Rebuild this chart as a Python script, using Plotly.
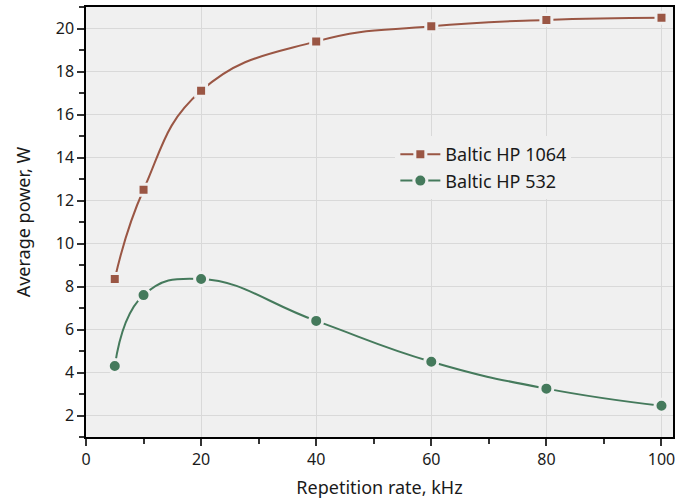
import plotly.graph_objects as go

rate_khz = [5, 10, 20, 40, 60, 80, 100]
power_1064 = [8.35, 12.5, 17.1, 19.4, 20.1, 20.4, 20.5]
power_532 = [4.3, 7.6, 8.35, 6.4, 4.5, 3.25, 2.45]

brown = "#9A5644"
green = "#457A5C"
bg = "#F0F0F0"
font_family = "Noto Sans, Open Sans, sans-serif"

fig = go.Figure()
fig.add_trace(go.Scatter(
    x=rate_khz, y=power_1064, name="Baltic HP 1064", mode="lines+markers",
    line=dict(color=brown, width=2, shape="spline", smoothing=1.3),
    marker=dict(symbol="square", size=11, color=brown, line=dict(color=bg, width=3)),
))
fig.add_trace(go.Scatter(
    x=rate_khz, y=power_532, name="Baltic HP 532", mode="lines+markers",
    line=dict(color=green, width=2, shape="spline", smoothing=1.3),
    marker=dict(symbol="circle", size=13, color=green, line=dict(color=bg, width=3)),
))

axis_common = dict(
    showline=True, linecolor="black", linewidth=1.5, mirror=True,
    ticks="outside", ticklen=7, tickcolor="#333", tickwidth=1.5,
    showgrid=True, gridcolor="#D9D9D9", gridwidth=1,
    zeroline=False,
    tickfont=dict(size=16, color="#1a1a1a", family=font_family),
    title_font=dict(size=18, color="#1a1a1a", family=font_family),
)

fig.update_xaxes(
    range=[0, 102], tickmode="linear", tick0=0, dtick=20,
    title_text="Repetition rate, kHz", title_standoff=12,
    minor=dict(ticks="outside", ticklen=5, dtick=10, tickcolor="#333", showgrid=False),
    **axis_common,
)
fig.update_yaxes(
    range=[1, 21], tickmode="linear", tick0=0, dtick=2,
    title_text="Average power, W", title_standoff=20,
    minor=dict(ticks="outside", ticklen=5, dtick=1, tickcolor="#333", showgrid=False),
    **axis_common,
)

fig.update_layout(
    width=692, height=501,
    margin=dict(l=86, r=19, t=5, b=64),
    plot_bgcolor=bg, paper_bgcolor="white",
    font=dict(family=font_family, color="#1a1a1a"),
    legend=dict(
        x=0.527, y=0.70, xanchor="left", yanchor="top",
        bgcolor=bg, borderwidth=0,
        font=dict(size=18, family=font_family, color="#1a1a1a"),
        itemwidth=40, tracegroupgap=0,
    ),
    showlegend=True,
)

fig.write_html(
    "out.html",
    config={"displayModeBar": False},
    post_script="document.body.style.margin='0px';document.body.style.overflow='hidden';",
)
